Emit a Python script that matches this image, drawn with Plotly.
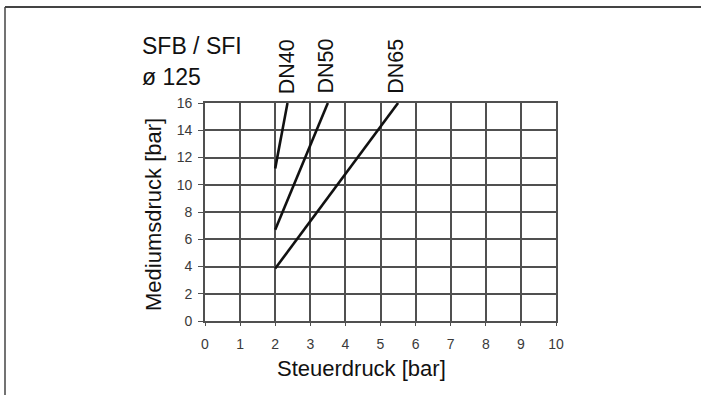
import plotly.graph_objects as go

# Data
series_names = ["DN40", "DN50", "DN65"]
dn40_x = [2.0, 2.35]
dn40_y = [11.2, 16.0]
dn50_x = [2.0, 3.5]
dn50_y = [6.7, 16.0]
dn65_x = [2.0, 5.5]
dn65_y = [3.85, 16.0]
label_x = [2.33, 3.42, 5.42]

x_ticks = list(range(0, 11))
y_ticks = list(range(0, 17, 2))

W, H = 701, 395
L, R, T, B = 205, 145, 103, 74
PW, PH = W - L - R, H - T - B


def px(xp, yp):
    """Convert page pixel position to paper fraction."""
    return (xp - L) / PW, (H - B - yp) / PH


FONT = "Liberation Sans, Arial, Helvetica"

fig = go.Figure()
for xs, ys, name in zip([dn40_x, dn50_x, dn65_x], [dn40_y, dn50_y, dn65_y], series_names):
    fig.add_trace(go.Scatter(x=xs, y=ys, mode="lines", name=name,
                             line=dict(color="#111111", width=2.6), showlegend=False))

for lx, name in zip(label_x, series_names):
    fig.add_annotation(x=lx, y=px(0, 96)[1], xref="x", yref="paper", text=name, showarrow=False,
                       textangle=-90, xanchor="center", yanchor="bottom",
                       font=dict(family=FONT, size=21.5, color="#111111"))

fig.update_layout(
    width=W, height=H,
    margin=dict(l=L, r=R, t=T, b=B),
    paper_bgcolor="white", plot_bgcolor="white",
    font=dict(family=FONT, color="#111111"),
    xaxis=dict(range=[0, 10], tickvals=x_ticks, showgrid=True, gridcolor="#505050", gridwidth=1.8,
               zeroline=False, showline=True, linecolor="#505050", linewidth=1.8, mirror=True,
               ticks="outside", ticklen=3, tickcolor="#505050", ticklabelstandoff=6,
               tickfont=dict(family=FONT, size=14, color="#3a3a3a")),
    yaxis=dict(range=[0, 16], tickvals=y_ticks, showgrid=True, gridcolor="#505050", gridwidth=1.8,
               zeroline=False, showline=True, linecolor="#505050", linewidth=1.8, mirror=True,
               ticks="outside", ticklen=5, tickcolor="#505050", ticklabelstandoff=3,
               tickfont=dict(family=FONT, size=14, color="#3a3a3a")),
)

# Axis titles as positioned text
ax, ay = px(361, 368)
fig.add_annotation(x=ax, y=ay, xref="paper", yref="paper", text="Steuerdruck [bar]", showarrow=False,
                   xanchor="center", yanchor="middle", font=dict(family=FONT, size=22, color="#111111"))
ax, ay = px(153, 215)
fig.add_annotation(x=ax, y=ay, xref="paper", yref="paper", text="Mediumsdruck [bar]", showarrow=False,
                   textangle=-90, xanchor="center", yanchor="middle",
                   font=dict(family=FONT, size=22, color="#111111"))

# Header texts
sx, sy = px(140, 46)
fig.add_annotation(x=sx, y=sy, xref="paper", yref="paper", text="SFB / SFI", showarrow=False,
                   xanchor="left", yanchor="middle", font=dict(family=FONT, size=23, color="#111111"))
sx, sy = px(140, 77)
fig.add_annotation(x=sx, y=sy, xref="paper", yref="paper", text="ø 125", showarrow=False,
                   xanchor="left", yanchor="middle", font=dict(family=FONT, size=23, color="#111111"))

# Frame lines (top and left) around the figure
x0, y0 = px(5, 7)
x1, _ = px(W, 7)
_, yb = px(5, H)
fig.add_shape(type="line", xref="paper", yref="paper", x0=x0, y0=y0, x1=x1, y1=y0,
              line=dict(color="#444444", width=2))
fig.add_shape(type="line", xref="paper", yref="paper", x0=x0, y0=y0, x1=x0, y1=yb,
              line=dict(color="#444444", width=1.5))

fig.write_html("out.html", config={"displayModeBar": False},
               post_script="document.body.style.margin='0';")
